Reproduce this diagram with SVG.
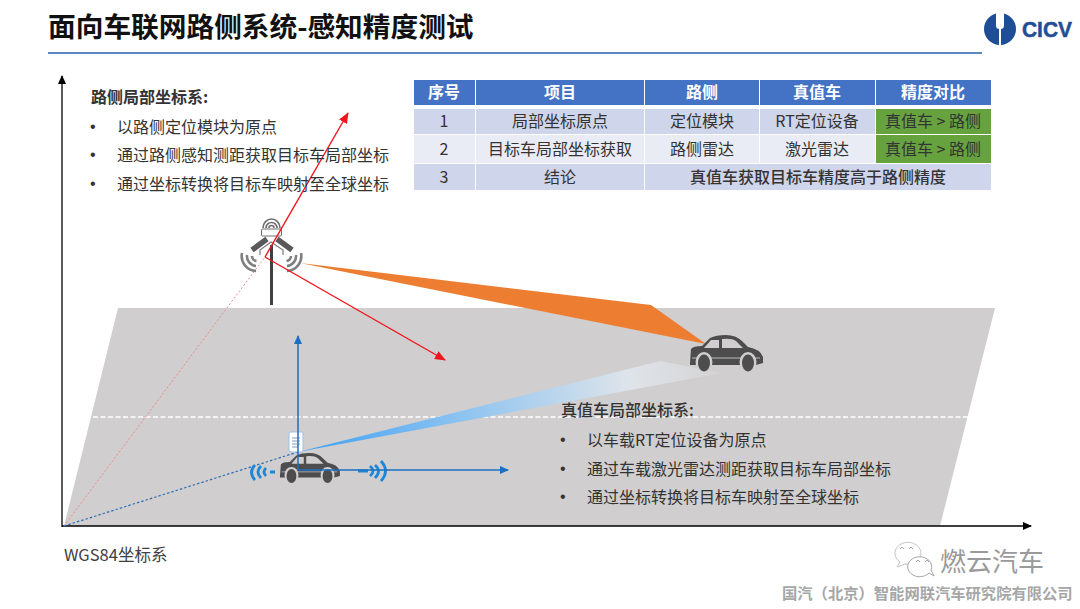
<svg xmlns="http://www.w3.org/2000/svg" width="1080" height="609" viewBox="0 0 1080 609">
<style>
text{font-family:"Noto Sans CJK SC","Liberation Sans",sans-serif;fill:#333}
.b{font-size:16px}
.d{font-size:16px;font-family:"Liberation Sans",sans-serif}
.c{font-size:16px;text-anchor:middle}
.h{font-size:16px;font-weight:700;fill:#fff;text-anchor:middle}
.g{fill:#595959}
.car{fill:#4d4d4d}
.win{fill:#d0cece}
</style>
<defs>
<marker id="ak" markerWidth="9" markerHeight="8" refX="8" refY="4" orient="auto" markerUnits="userSpaceOnUse"><path d="M0 0L9 4L0 8z" fill="#000"/></marker>
<marker id="ar" markerWidth="11" markerHeight="9" refX="10" refY="4.5" orient="auto" markerUnits="userSpaceOnUse"><path d="M0 0L11 4.5L0 9z" fill="#f0141c"/></marker>
<marker id="ab" markerWidth="9" markerHeight="8" refX="8" refY="4" orient="auto" markerUnits="userSpaceOnUse"><path d="M0 0L9 4L0 8z" fill="#1c6fc0"/></marker>
<linearGradient id="bg" gradientUnits="userSpaceOnUse" x1="300" y1="452" x2="715" y2="368"><stop offset="0" stop-color="#3ea0f5"/><stop offset=".4" stop-color="#8fc4f0"/><stop offset=".8" stop-color="#dfe4ea"/><stop offset="1" stop-color="#d4d4d4"/></linearGradient>
<g id="carshape">
<path class="car" d="M0 28L1 14Q3 11 12 11L20 3Q26 0 36 0Q46 0 52 6L58 12Q70 14 73 22L73 28L66 30H0z"/>
<path d="M2 23H70" stroke="#bdbdbd" stroke-width="1" fill="none"/>
<path class="win" d="M21 5H29V13H14zM32 4Q42 3 46 6L53 13H32z"/>
<ellipse class="win" cx="14" cy="27" rx="8.5" ry="10"/><ellipse class="win" cx="58" cy="27" rx="8.5" ry="10"/>
<ellipse class="car" cx="14" cy="28" rx="6" ry="8.5"/><ellipse class="car" cx="58" cy="28" rx="6" ry="8.5"/>
</g>
</defs>
<rect width="1080" height="609" fill="#fff"/>
<g id="title"><text x="48" y="37" style="font-size:27.7px;font-weight:700;fill:#111">面向车联网路侧系统-感知精度测试</text><rect x="48" y="52" width="934" height="2" fill="#5b86c0"/></g>
<g id="logo"><circle cx="1000" cy="29" r="16" fill="#1f4e97"/><rect x="996" y="11" width="8" height="18" rx="3.5" fill="#fff"/><rect x="999" y="28" width="2" height="19" fill="#fff"/><text x="1022" y="37" style="font-size:22px;font-weight:700;fill:#1f4e97;stroke:#1f4e97;stroke-width:.5;font-family:'Liberation Sans',sans-serif" textLength="50" lengthAdjust="spacingAndGlyphs">CICV</text></g>
<g id="road"><polygon points="118,308 995,308 940,526 64,526" fill="#d0cece"/><line x1="93" y1="417" x2="970" y2="417" stroke="#fff" stroke-width="1.6" stroke-dasharray="5 2.5"/></g>
<g id="beams"><polygon points="300,263 651,305 706,344" fill="#ed7d31"/><polygon points="298,452 660,361 722,373" fill="url(#bg)"/></g>
<g id="connectors" fill="none">
<line x1="62" y1="527" x2="62" y2="76" stroke="#000" stroke-width="1.3" marker-end="url(#ak)"/>
<line x1="62" y1="526" x2="1031" y2="526" stroke="#000" stroke-width="1.3" marker-end="url(#ak)"/>
<line x1="64" y1="526" x2="265" y2="257" stroke="#f08a8a" stroke-width="1" stroke-dasharray="2 2"/>
<line x1="64" y1="526" x2="298" y2="452" stroke="#2f6db5" stroke-width="1.2" stroke-dasharray="2.5 2"/>
</g>
<g id="rsu">
<rect x="270" y="245" width="3" height="60" fill="#404040"/>
<path d="M263 228A8.5 9 0 0 1 280 228M266 228A5.5 5.5 0 0 1 277 228M269 228A2.5 2.5 0 0 1 274 228" fill="none" stroke="#6e6e6e" stroke-width="1.6"/>
<rect x="261.500" y="229" width="20" height="7" rx="1" fill="#fff" stroke="#6e6e6e"/>
<path d="M252 250L267 239" stroke="#595959" stroke-width="5.500"/><path d="M292 250L277 239" stroke="#595959" stroke-width="5.500"/>
<path d="M260 255V250L271 242L283 250V255" fill="none" stroke="#7a7a7a" stroke-width="1.2"/>
<path d="M252 256A5 5 0 0 0 256.500 261M247 255A10 10 0 0 0 256 266M242 253A15 15 0 0 0 256 271M291 256A5 5 0 0 1 286.500 261M296 255A10 10 0 0 1 287 266M301 253A15 15 0 0 1 287 271" fill="none" stroke="#7f7f7f" stroke-width="2.6"/>
</g>
<g id="connectors-red" fill="none">
<line x1="265" y1="257" x2="348" y2="113" stroke="#f0141c" stroke-width="1.4" marker-end="url(#ar)"/>
<line x1="265" y1="257" x2="445" y2="360" stroke="#f0141c" stroke-width="1.4" marker-end="url(#ar)"/>
</g>
<g id="car-target"><use href="#carshape" transform="translate(690 335)"/></g>
<g id="car-truth">
<use href="#carshape" transform="translate(280 453) scale(.82)"/>
<path d="M290 432H302Q303 432 303 434V450Q303 452 301 452H291Q289 452 289 450V433z" fill="#fff" stroke="#9dc3e6" stroke-width="1"/><path d="M292 438H300M292 441H300M292 444H300M292 447H298" stroke="#7f9ec0" stroke-width="1"/>
<path d="M255 465Q248 472 255 480M261 466Q255 472 261 478M266 468Q262 472 266 476M270 472H275M358 471H368M370 466Q376 471 370 476M375 465Q382 471 375 478M381 461Q390 471 381 481" fill="none" stroke="#1c86d8" stroke-width="2.8"/>
</g>
<g id="connectors-blue" fill="none">
<line x1="298" y1="470" x2="298" y2="336" stroke="#1c6fc0" stroke-width="1.5" marker-end="url(#ab)"/>
<line x1="298" y1="470" x2="508" y2="470" stroke="#1c6fc0" stroke-width="1.5" marker-end="url(#ab)"/>
</g>
<g id="table">
<g fill="#4472c4"><rect x="414" y="80" width="61" height="25"/><rect x="476" y="80" width="168" height="25"/><rect x="645" y="80" width="114" height="25"/><rect x="760" y="80" width="115" height="25"/><rect x="876" y="80" width="115" height="25"/></g>
<g fill="#cfd5ea"><rect x="414" y="109" width="61" height="25"/><rect x="476" y="109" width="168" height="25"/><rect x="645" y="109" width="114" height="25"/><rect x="760" y="109" width="115" height="25"/><rect x="414" y="164" width="61" height="26"/><rect x="476" y="164" width="168" height="26"/><rect x="645" y="164" width="346" height="26"/></g>
<g fill="#e9ebf5"><rect x="414" y="135" width="61" height="28"/><rect x="476" y="135" width="168" height="28"/><rect x="645" y="135" width="114" height="28"/><rect x="760" y="135" width="115" height="28"/></g>
<g fill="#66a33f"><rect x="876" y="109" width="115" height="25"/><rect x="876" y="135" width="115" height="28"/></g>
<text class="h" x="444" y="98">序号</text><text class="h" x="560" y="98">项目</text><text class="h" x="702" y="98">路侧</text><text class="h" x="817" y="98">真值车</text><text class="h" x="933" y="98">精度对比</text>
<text class="c" x="444" y="127">1</text><text class="c" x="560" y="127">局部坐标原点</text><text class="c" x="702" y="127">定位模块</text><text class="c" x="817" y="127">RT定位设备</text><text class="c" x="933" y="127">真值车 &gt; 路侧</text>
<text class="c" x="444" y="155">2</text><text class="c" x="560" y="155">目标车局部坐标获取</text><text class="c" x="702" y="155">路侧雷达</text><text class="c" x="817" y="155">激光雷达</text><text class="c" x="933" y="155">真值车 &gt; 路侧</text>
<text class="c" x="444" y="183">3</text><text class="c" x="560" y="183">结论</text><text class="c" x="818" y="183" style="font-weight:500">真值车获取目标车精度高于路侧精度</text>
</g>
<g id="note-road">
<text class="b" x="91" y="103" style="font-weight:700">路侧局部坐标系:</text>
<text class="d" x="90" y="132">•</text><text class="b" x="117" y="133">以路侧定位模块为原点</text>
<text class="d" x="90" y="160">•</text><text class="b" x="117" y="161">通过路侧感知测距获取目标车局部坐标</text>
<text class="d" x="90" y="189">•</text><text class="b" x="117" y="190">通过坐标转换将目标车映射至全球坐标</text>
</g>
<g id="note-truth">
<text class="b" x="561" y="416" style="font-weight:500">真值车局部坐标系:</text>
<text class="d" x="560" y="445">•</text><text class="b" x="587" y="446">以车载RT定位设备为原点</text>
<text class="d" x="560" y="474">•</text><text class="b" x="587" y="475">通过车载激光雷达测距获取目标车局部坐标</text>
<text class="d" x="560" y="502">•</text><text class="b" x="587" y="503">通过坐标转换将目标车映射至全球坐标</text>
</g>
<text x="64" y="561" style="font-size:16.500px;fill:#404040">WGS84坐标系</text>
<g id="watermark">
<path d="M900 562L897 567L905 564A13 11 0 1 0 900 562z" fill="#fff" stroke="#c4c4c4"/><path d="M929 573L934 576L931 570A12 10 0 1 0 929 573z" fill="#fff" stroke="#a6a6a6"/>
<path d="M900 549l2-2 2 2M909 549l2-2 2 2M916 562l2-2 2 2M925 562l2-2 2 2" fill="none" stroke="#a6a6a6"/>
<text x="940" y="571" style="font-size:26px;fill:#9a9a9a">燃云汽车</text>
<text x="782" y="599" style="font-size:15.300px;font-weight:700;fill:#a6a6a6">国汽（北京）智能网联汽车研究院有限公司</text>
</g>
</svg>
